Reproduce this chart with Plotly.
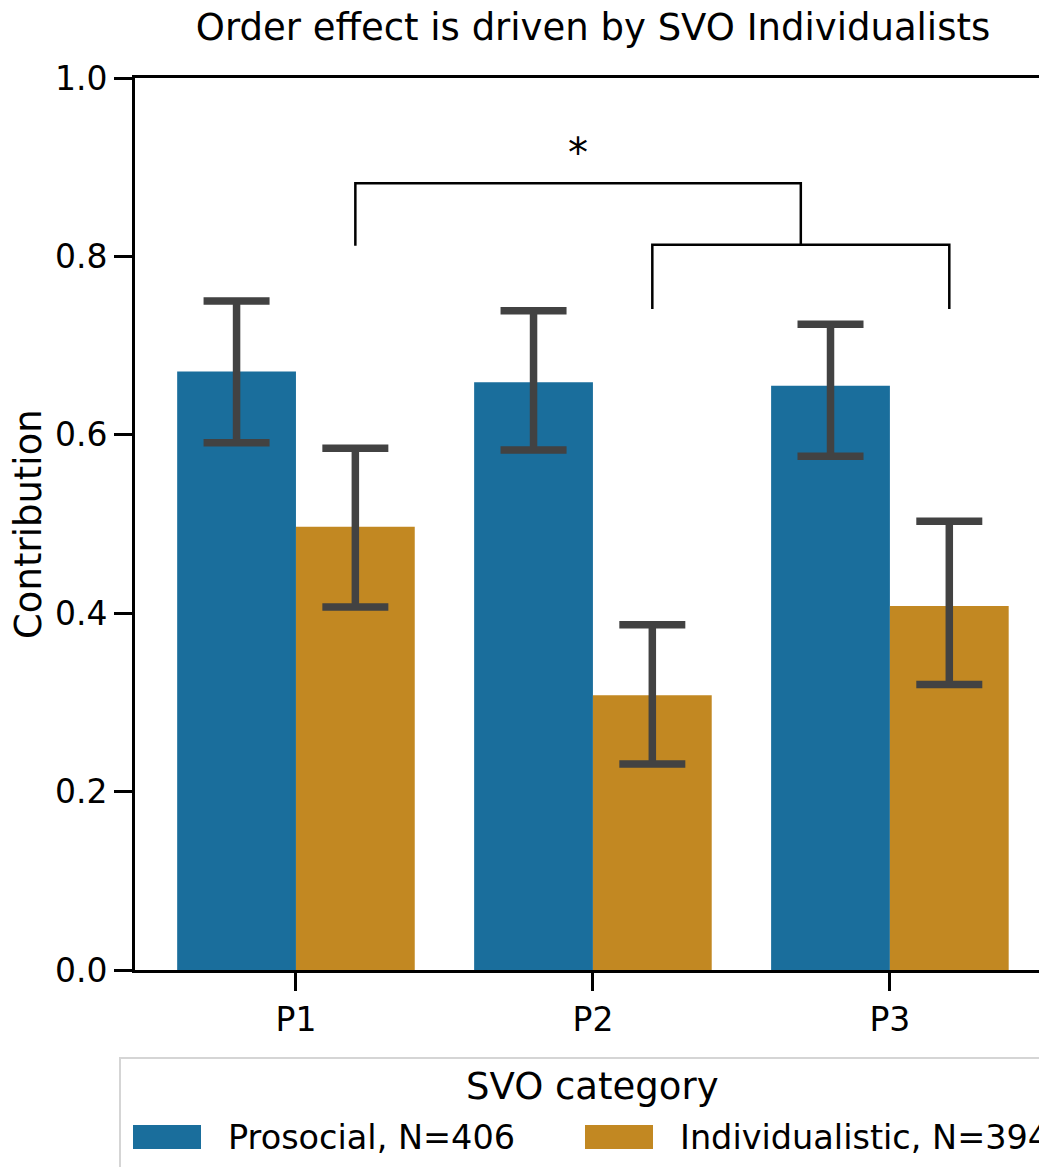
import plotly.graph_objects as go

# ---- data ----
categories = ["P1", "P2", "P3"]
series_names = ["Prosocial, N=406", "Individualistic, N=394"]
prosocial = [0.671, 0.659, 0.655]
prosocial_hi = [0.750, 0.739, 0.724]
prosocial_lo = [0.591, 0.583, 0.576]
individualistic = [0.497, 0.308, 0.408]
individualistic_hi = [0.585, 0.387, 0.503]
individualistic_lo = [0.407, 0.231, 0.320]
y_ticks = [0.0, 0.2, 0.4, 0.6, 0.8, 1.0]
colors = ["#1a6e9c", "#c28822"]
err_color = "#424242"
FONT = "DejaVu Sans"

PAGE_OFF = 8  # default body margin of the html page
W, H = 1047 - PAGE_OFF, 1167 - PAGE_OFF
L, R, T, B = 135, 1047, 78, 970  # plot area in page pixels


def px_x(px):
    return (px - L) / (R - L)


def px_y(py):
    return (B - py) / (B - T)


fig = go.Figure()
vals = [prosocial, individualistic]
his = [prosocial_hi, individualistic_hi]
los = [prosocial_lo, individualistic_lo]
for name, v, hi, lo, c in zip(series_names, vals, his, los, colors):
    fig.add_trace(go.Bar(
        x=categories, y=v, name=name, marker=dict(color=c, line=dict(width=0)),
        error_y=dict(type="data", symmetric=False,
                     array=[h - m for h, m in zip(hi, v)],
                     arrayminus=[m - l for m, l in zip(v, lo)],
                     color=err_color, thickness=7.5, width=33),
        showlegend=False,
    ))

# significance brackets (category index + bar offset)
off = 0.2
lw = 2.5
lower_l, lower_r, lower_y, lower_leg = 1 + off, 2 + off, 0.813, 0.741
upper_l, upper_y, upper_leg = 0 + off, 0.882, 0.812
upper_r = (lower_l + lower_r) / 2
fig.add_shape(type="path", xref="x", yref="y",
              path=f"M {lower_l},{lower_leg} L {lower_l},{lower_y} L {lower_r},{lower_y} L {lower_r},{lower_leg}",
              line=dict(color="black", width=lw))
fig.add_shape(type="path", xref="x", yref="y",
              path=f"M {upper_l},{upper_leg} L {upper_l},{upper_y} L {upper_r},{upper_y} L {upper_r},{lower_y}",
              line=dict(color="black", width=lw))
fig.add_annotation(x=(upper_l + upper_r) / 2, y=upper_y, xref="x", yref="y",
                   text="*", showarrow=False, yanchor="bottom", yshift=5,
                   font=dict(family=FONT, size=40, color="black"))

# y label
fig.add_annotation(x=px_x(28), y=0.5, xref="paper", yref="paper", text="Contribution",
                   textangle=-90, showarrow=False, xanchor="center", yanchor="middle",
                   font=dict(family=FONT, size=37, color="black"))

# manual legend
bx0, by0, bx1, by1 = px_x(120), px_y(1058), px_x(1070), px_y(1185)
fig.add_shape(type="rect", xref="paper", yref="paper", x0=bx0, x1=bx1, y0=by1, y1=by0,
              line=dict(color="#d5d5d5", width=2), fillcolor="rgba(255,255,255,0.8)", layer="below")
fig.add_annotation(x=px_x(592), y=px_y(1086), xref="paper", yref="paper", text="SVO category",
                   showarrow=False, xanchor="center", yanchor="middle",
                   font=dict(family=FONT, size=37, color="black"))
patch_x = [133, 585]
text_x = [226, 678]
for name, c, p0, tx in zip(series_names, colors, patch_x, text_x):
    fig.add_shape(type="rect", xref="paper", yref="paper", x0=px_x(p0), x1=px_x(p0 + 68),
                  y0=px_y(1149), y1=px_y(1125), line=dict(width=0), fillcolor=c)
    fig.add_annotation(x=px_x(tx), y=px_y(1137), xref="paper", yref="paper", text=name,
                       showarrow=False, xanchor="left", yanchor="middle",
                       font=dict(family=FONT, size=33.5, color="black"))

fig.update_layout(
    width=W, height=H,
    margin=dict(l=L - PAGE_OFF, r=(W + PAGE_OFF) - R, t=T - PAGE_OFF, b=(H + PAGE_OFF) - B, pad=0),
    paper_bgcolor="white", plot_bgcolor="white",
    barmode="group", bargap=0.2, bargroupgap=0,
    title=dict(text="Order effect is driven by SVO Individualists", x=(593 - PAGE_OFF) / W,
               xanchor="center", y=1 - (27 - PAGE_OFF) / H, yanchor="middle",
               font=dict(family=FONT, size=37, color="black")),
    font=dict(family=FONT, color="black"),
)
fig.update_xaxes(range=[-0.542, 2.529], showline=True, linecolor="black", linewidth=3,
                 mirror=True, ticks="outside", ticklen=18, tickwidth=3, tickcolor="black",
                 showgrid=False, zeroline=False, tickfont=dict(family=FONT, size=33, color="black"))
fig.update_yaxes(range=[0, 1], tickvals=y_ticks, ticktext=[f"{v:.1f}" for v in y_ticks],
                 showline=True, linecolor="black", linewidth=3, mirror=False,
                 ticks="outside", ticklen=18, tickwidth=3, tickcolor="black",
                 showgrid=False, zeroline=False, tickfont=dict(family=FONT, size=33, color="black"))

fig.write_html("out.html")
